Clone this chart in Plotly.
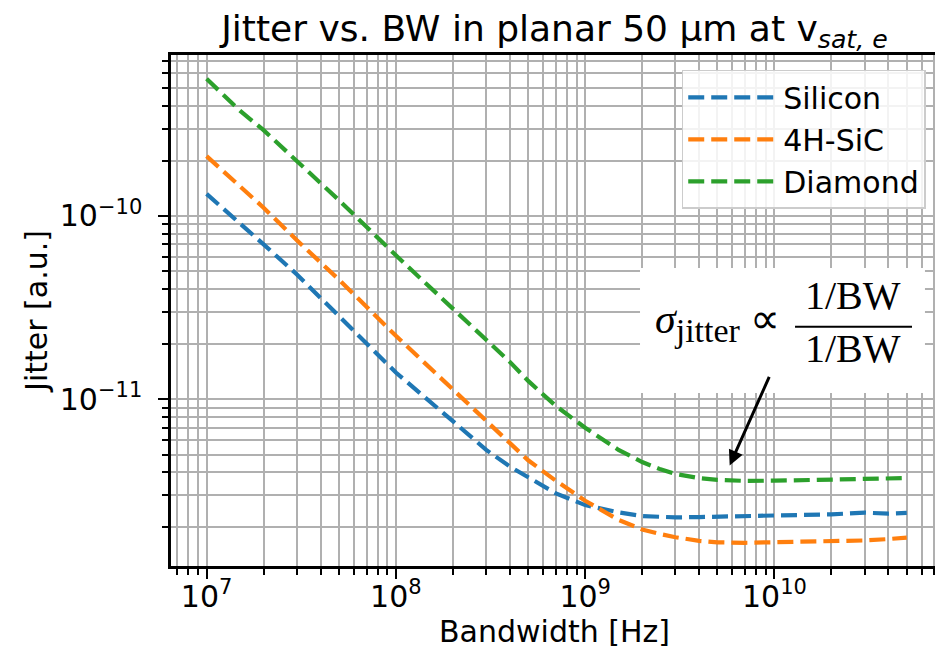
import numpy as np
import plotly.graph_objects as go

bandwidth = [1e7, 1.5e7, 2e7, 3e7, 5e7, 1e8, 2e8, 3e8, 4e8, 5e8, 7e8, 1e9, 1.5e9, 2e9,
             2.5e9, 3e9, 4e9, 5e9, 7e9, 1e10, 2e10, 3e10, 4e10, 5e10]
silicon = [1.32e-10, 9.2e-11, 7.0e-11, 4.8e-11, 2.85e-11, 1.4e-11, 7.6e-12, 5.3e-12,
           4.3e-12, 3.75e-12, 3.07e-12, 2.65e-12, 2.42e-12, 2.31e-12,
           2.28e-12, 2.27e-12, 2.28e-12, 2.29e-12, 2.31e-12,
           2.33e-12, 2.36e-12, 2.41e-12, 2.38e-12, 2.4e-12]
sic4h = [2.12e-10, 1.46e-10, 1.11e-10, 7.37e-11, 4.5e-11, 2.22e-11, 1.13e-11, 7.6e-12,
         5.8e-12, 4.65e-12, 3.6e-12, 2.8e-12, 2.2e-12, 1.95e-12,
         1.84e-12, 1.77e-12, 1.69e-12, 1.66e-12, 1.65e-12,
         1.66e-12, 1.68e-12, 1.7e-12, 1.73e-12, 1.76e-12]
diamond = [5.6e-10, 3.75e-10, 2.94e-10, 2.0e-10, 1.22e-10, 6.1e-11, 3.12e-11, 2.11e-11,
           1.6e-11, 1.26e-11, 9.2e-12, 7.0e-12, 5.3e-12, 4.55e-12,
           4.15e-12, 3.92e-12, 3.72e-12, 3.64e-12, 3.59e-12,
           3.6e-12, 3.64e-12, 3.68e-12, 3.72e-12, 3.72e-12]
series_names = ["Silicon", "4H-SiC", "Diamond"]
series_colors = ["#1f77b4", "#ff7f0e", "#2ca02c"]

x_tickvals = [1e7, 1e8, 1e9, 1e10]
x_ticktext = ["10<sup>7</sup>", "10<sup>8</sup>", "10<sup>9</sup>", "10<sup>10</sup>"]
y_tickvals = [1e-11, 1e-10]
y_ticktext = ["10<sup>−11</sup>", "10<sup>−10</sup>"]

# arrow annotation (tip and tail in data units)
arrow_tip = (5.8e9, 4.36e-12)
arrow_tail = (9.46e9, 1.35e-11)

FONT = "DejaVu Sans"
GRID = "#b0b0b0"

fig = go.Figure()
for name, vals, col in zip(series_names, [silicon, sic4h, diamond], series_colors):
    fig.add_trace(go.Scatter(x=bandwidth, y=vals, mode="lines", name=name,
                             line=dict(color=col, width=4.2, dash="16px,7px")))

minor_x = [d * 10 ** e for e in range(6, 11) for d in range(2, 10)]
minor_y = [d * 10 ** e for e in range(-13, -8) for d in range(2, 10)]

axis_common = dict(
    type="log", tickmode="array",
    ticks="outside", ticklen=10, tickwidth=2.4, tickcolor="black",
    showgrid=True, gridcolor=GRID, gridwidth=2,
    showline=True, linecolor="black", linewidth=2.5, mirror=True,
    zeroline=False, automargin=False,
    tickfont=dict(family=FONT, size=30, color="black"),
)

fig.update_xaxes(**axis_common, range=[6.812, 10.864],
                 tickvals=x_tickvals, ticktext=x_ticktext, ticklabelstandoff=-8,
                 minor=dict(tickvals=minor_x, ticks="outside", ticklen=6, tickwidth=1.8,
                            tickcolor="black", showgrid=True, gridcolor=GRID, gridwidth=2),
                 title=dict(text="Bandwidth [Hz]", font=dict(family=FONT, size=30, color="black"),
                            standoff=8))
fig.update_yaxes(**axis_common, range=[-11.909, -9.122],
                 tickvals=y_tickvals, ticktext=y_ticktext, ticklabelstandoff=10,
                 minor=dict(tickvals=minor_y, ticks="outside", ticklen=6, tickwidth=1.8,
                            tickcolor="black", showgrid=True, gridcolor=GRID, gridwidth=2),
                 title=dict(text="Jitter [a.u.]", font=dict(family=FONT, size=30, color="black"),
                            standoff=4))

# white box behind the formula
fig.add_shape(type="rect", xref="paper", yref="paper", x0=0.6115, x1=0.983, y0=0.3386, y1=0.583,
              fillcolor="white", line=dict(width=0), layer="above")
# fraction bar
fig.add_shape(type="line", xref="paper", yref="paper", x0=0.8136, x1=0.9661, y0=0.4683, y1=0.4683,
              line=dict(color="black", width=2), layer="above")

SERIF = "Liberation Serif"
fig.add_annotation(xref="paper", yref="paper", x=0.8896, y=0.5303, text="1/BW", showarrow=False,
                   font=dict(family=SERIF, size=40, color="black"), xanchor="center", yanchor="middle")
fig.add_annotation(xref="paper", yref="paper", x=0.8896, y=0.4266, text="1/BW", showarrow=False,
                   font=dict(family=SERIF, size=40, color="black"), xanchor="center", yanchor="middle")
fig.add_annotation(xref="paper", yref="paper", x=0.797, y=0.477,
                   text="<i>σ</i><sub><span style='font-size:34px'>jitter</span></sub> ∝",
                   showarrow=False,
                   font=dict(family=SERIF, size=42, color="black"), xanchor="right", yanchor="middle")

fig.add_annotation(x=np.log10(arrow_tip[0]), y=np.log10(arrow_tip[1]),
                   ax=np.log10(arrow_tail[0]), ay=np.log10(arrow_tail[1]),
                   axref="x", ayref="y", xref="x", yref="y", text="",
                   showarrow=True, arrowhead=2, arrowsize=1, arrowwidth=3, arrowcolor="black")

# The page body has an 8px margin, so the figure is drawn 8px smaller
fig.update_layout(
    width=935, height=649,
    margin=dict(l=163, r=5, t=47, b=91),
    paper_bgcolor="white", plot_bgcolor="white",
    font=dict(family=FONT, color="black"),
    title=dict(text="Jitter vs. BW in planar 50 μm at v<sub><i>sat, e</i></sub>",
               x=0.5, xref="paper", xanchor="center", y=0.969, yref="container", yanchor="middle",
               font=dict(family=FONT, size=36, color="black")),
    legend=dict(x=0.984, y=0.971, xanchor="right", yanchor="top", itemwidth=90,
                bgcolor="rgba(255,255,255,0.85)", bordercolor="#cccccc", borderwidth=1.5,
                font=dict(family=FONT, size=30, color="black")),
    showlegend=True,
)

fig.write_html("out.html")
